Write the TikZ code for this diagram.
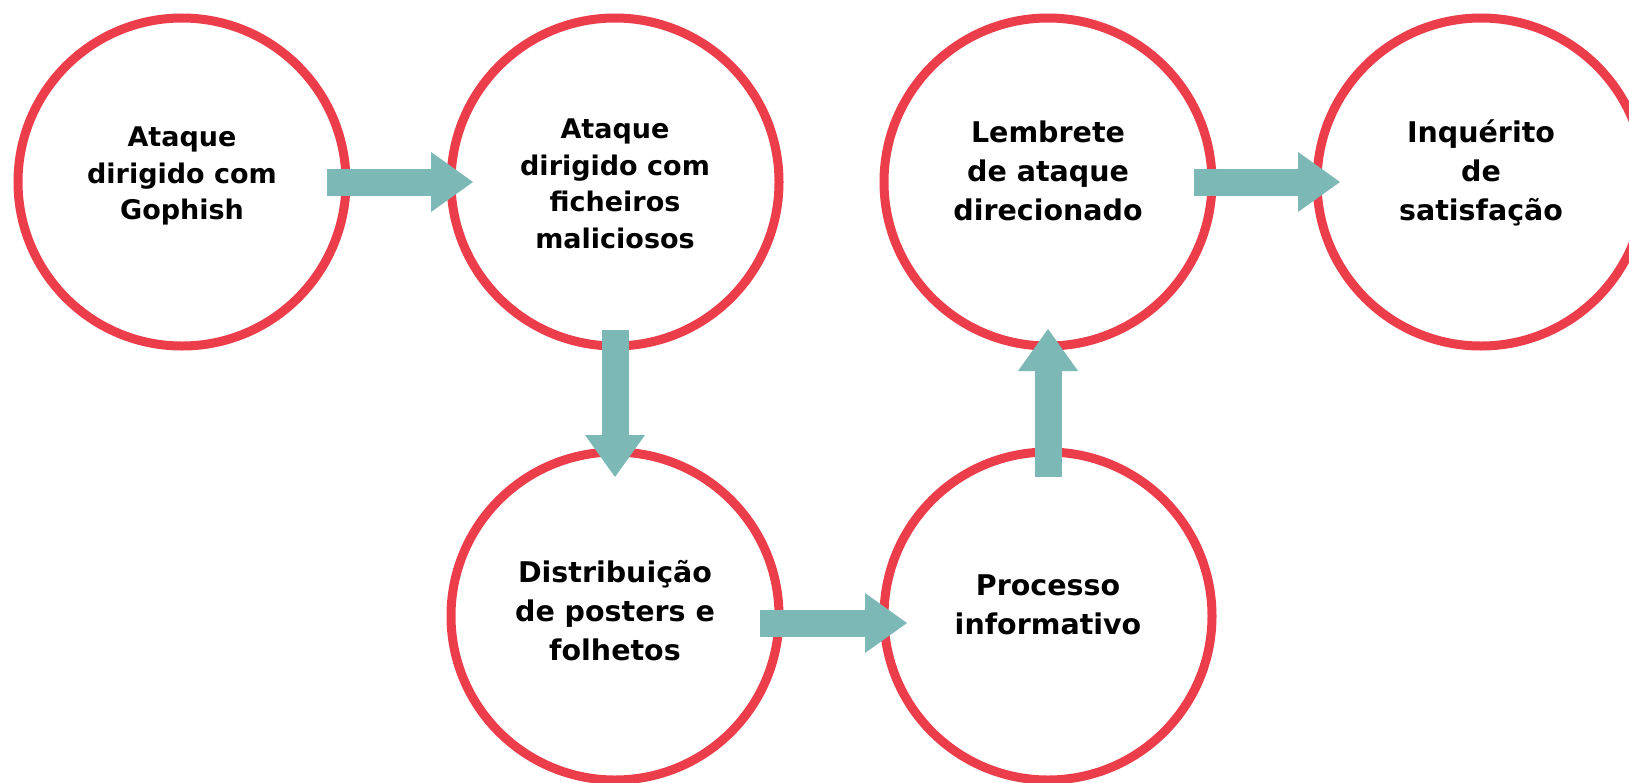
\documentclass[tikz,border=0pt]{standalone}
\usepackage{fontspec}
\setmainfont{DejaVu Sans}
\usetikzlibrary{arrows.meta,calc}
\definecolor{ringred}{RGB}{236,62,74}
\definecolor{flowteal}{RGB}{124,184,181}
\begin{document}
\begin{tikzpicture}[x=1pt,y=-1pt,
  ring/.style={circle,draw=ringred,line width=9pt,minimum size=328pt,inner sep=0pt},
  lbla/.style={align=center,text=black,font=\fontsize{27}{36.5}\selectfont\bfseries},
  lblb/.style={align=center,text=black,font=\fontsize{28.5}{39}\selectfont\bfseries},
  flow/.style={draw=flowteal,line width=27pt,-{Triangle[width=60pt,length=42pt,line width=0pt]}}]
\useasboundingbox (0,0) rectangle (1629,782);
\fill[white] (0,0) rectangle (1629,782);
\clip (0,0) rectangle (1629,782);
% circles
\node[ring] (c1) at (182,182) {};
\node[ring] (c2) at (615,182) {};
\node[ring] (c3) at (615,616) {};
\node[ring] (c4) at (1048,616) {};
\node[ring] (c5) at (1048,182) {};
\node[ring] (c6) at (1481,182) {};
% connectors
\draw[flow,shorten <=-23.5pt,shorten >=-26.5pt] (c1.east) -- (c2.west);
\draw[flow,shorten <=-20.5pt,shorten >=-29.5pt] (c2.south) -- (c3.north);
\draw[flow,shorten <=-23.5pt,shorten >=-27.5pt] ($(c3.east)+(0,7)$) -- ($(c4.west)+(0,7)$);
\draw[flow,shorten <=-29.5pt,shorten >=-21.5pt] (c4.north) -- (c5.south);
\draw[flow,shorten <=-22.5pt,shorten >=-27.5pt] (c5.east) -- (c6.west);
% labels
\node[lbla] (t1) at ($(c1)+(0,-6)$) {Ataque\\dirigido com\\Gophish};
\node[lbla] (t2) at ($(c2)+(0,2)$) {Ataque\\dirigido com\\ficheiros\\maliciosos};
\node[lblb] (t3) at ($(c3)+(0,-5)$) {Distribuição\\de posters e\\folhetos};
\node[lblb] (t4) at ($(c4)+(0,-11)$) {Processo\\informativo};
\node[lblb] (t5) at ($(c5)+(0,-11)$) {Lembrete\\de ataque\\direcionado};
\node[lblb] (t6) at ($(c6)+(0,-9)$) {Inquérito\\de\\satisfação};
\end{tikzpicture}
\end{document}
